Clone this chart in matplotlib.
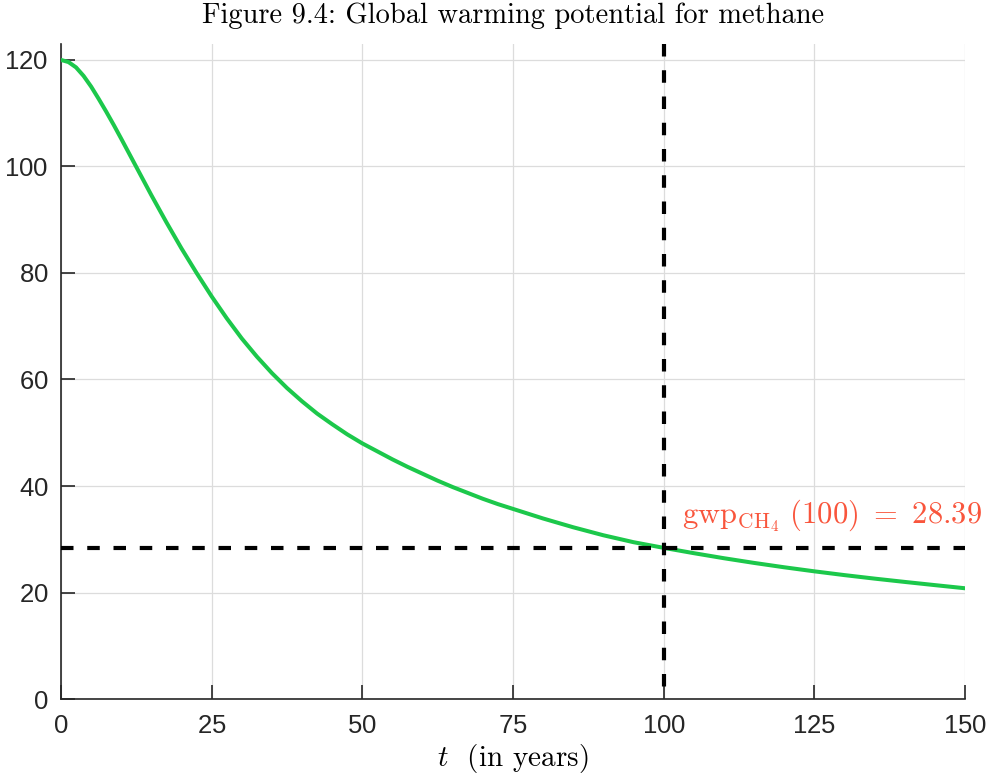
import matplotlib
matplotlib.use("Agg")
import matplotlib.pyplot as plt

# GWP of methane
years = [0, 1.25, 2.5, 3.75, 5, 6.25, 7.5, 8.75, 10, 12.5, 15, 17.5, 20, 22.5,
         25, 27.5, 30, 32.5, 35, 37.5, 40, 42.5, 45, 47.5, 50, 52.5, 55, 57.5,
         60, 62.5, 65, 67.5, 70, 72.5, 75, 80, 85, 90, 95, 100, 105, 110, 115,
         120, 125, 130, 135, 140, 145, 150]
gwp = [120.0, 119.6, 118.6, 117.0, 115.0, 112.7, 110.3, 107.8, 105.2, 99.9,
       94.6, 89.5, 84.6, 80.0, 75.6, 71.5, 67.7, 64.3, 61.2, 58.4, 55.9, 53.6,
       51.6, 49.7, 48.0, 46.5, 45.0, 43.6, 42.3, 41.0, 39.8, 38.7, 37.6, 36.6,
       35.7, 33.9, 32.25, 30.75, 29.45, 28.39, 27.39, 26.44, 25.56, 24.74,
       23.98, 23.27, 22.61, 21.99, 21.39, 20.8]
t_mark = 100
gwp_mark = 28.39

xticks = [0, 25, 50, 75, 100, 125, 150]
yticks = [0, 20, 40, 60, 80, 100, 120]
y_top = 123

plt.rcParams['mathtext.fontset'] = 'cm'
plt.rcParams['axes.formatter.use_mathtext'] = True

fig = plt.figure(figsize=(9.9, 7.78), dpi=100)
ax = fig.add_axes([0.0616, 0.1015, 0.9131, 0.842])

ax.plot(years, gwp, color='#1cc84b', lw=2.9, zorder=3)
ax.axhline(gwp_mark, color='black', lw=3, ls=(0, (3, 3.3)), zorder=4)
# drawn top-down so the dash pattern starts at the top edge
ax.plot([t_mark, t_mark], [y_top, 0], color='black', lw=3,
        ls=(0, (3, 3.3)), zorder=4, clip_on=False)

ax.text(103, 33.0, r'$\mathrm{gwp}_{\mathrm{CH}_4}\ (100)\ =\ 28.39$',
        color='#f9553c', fontsize=22, va='baseline', ha='left')

ax.set_xlim(0, 150)
ax.set_ylim(0, y_top)
ax.set_xticks(xticks)
ax.set_yticks(yticks)
ax.grid(True, color='#dcdcdc', lw=0.9)
ax.set_axisbelow(True)

for s in ['top', 'right']:
    ax.spines[s].set_visible(False)
for s in ['left', 'bottom']:
    ax.spines[s].set_color('#262626')
    ax.spines[s].set_linewidth(1.2)

ax.tick_params(direction='in', length=10, width=1.2, color='#262626',
               labelcolor='#262626', labelsize=18.5)
ax.tick_params(axis='x', pad=11)
ax.tick_params(axis='y', pad=9)
for lab in ax.get_xticklabels() + ax.get_yticklabels():
    lab.set_fontfamily('Liberation Sans')

ax.set_xlabel(r'$t$  (in years)', fontsize=21, family='cmr10', labelpad=3)
ax.set_title('Figure 9.4: Global warming potential for methane',
             fontsize=20.5, family='cmr10', pad=15)

fig.savefig('out.png', dpi=100)
